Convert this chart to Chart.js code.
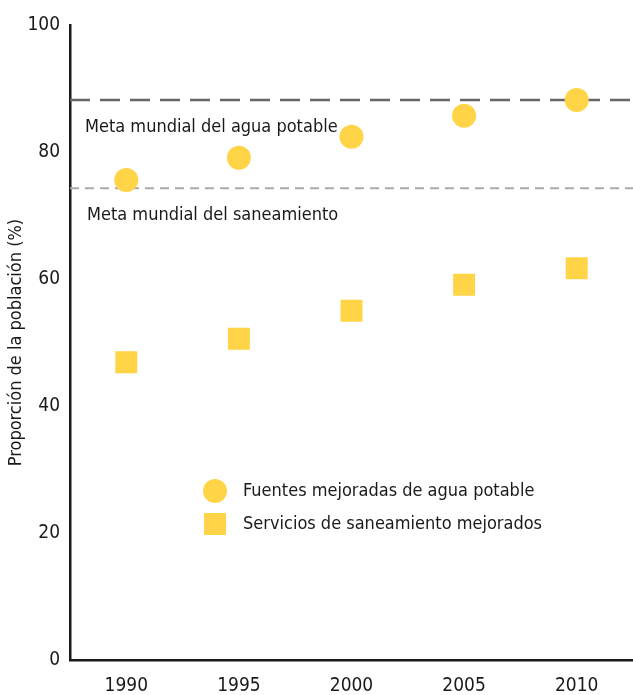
<!DOCTYPE html>
<html>
<head>
<meta charset="utf-8">
<script src="https://cdn.jsdelivr.net/npm/chart.js@4/dist/chart.umd.min.js"></script>
<style>
  html, body { margin: 0; padding: 0; background: #fff; overflow: hidden; }
  #wrap { width: 633px; height: 695px; }
  canvas { display: block; }
</style>
</head>
<body>
<div id="wrap"><canvas id="myChart" width="633" height="695"></canvas></div>
<script>
var years = ['1990', '1995', '2000', '2005', '2010'];
var agua = [75.6, 79.1, 82.4, 85.7, 88.2];        // fuentes mejoradas de agua potable
var saneamiento = [46.9, 50.6, 55.0, 59.1, 61.7]; // servicios de saneamiento mejorados
var yTicks = [0, 20, 40, 60, 80, 100];
var metaAgua = 88.2;
var metaSaneamiento = 74.3;

var FONT = "'Liberation Sans Narrow', 'DejaVu Sans Condensed', 'Liberation Sans', sans-serif";
var yellow = 'rgb(255, 212, 71)';

// goal lines, their labels and the legend inside the plot
var extras = {
  id: 'extras',
  beforeDatasetsDraw: function (chart) {
    var c = chart.ctx, a = chart.chartArea, y = chart.scales.y;
    c.save();
    c.lineWidth = 2.5;
    c.strokeStyle = '#666';
    c.setLineDash([20, 10]);
    var p = y.getPixelForValue(metaAgua);
    c.beginPath(); c.moveTo(a.left, p); c.lineTo(a.right, p); c.stroke();
    c.lineWidth = 2;
    c.strokeStyle = '#aaa';
    c.setLineDash([9, 6]);
    p = y.getPixelForValue(metaSaneamiento);
    c.beginPath(); c.moveTo(a.left, p); c.lineTo(a.right, p); c.stroke();
    c.setLineDash([]);
    c.fillStyle = '#1a1a1a';
    c.font = '18px ' + FONT;
    c.textBaseline = 'middle';
    c.fillText('Meta mundial del agua potable', 85, y.getPixelForValue(metaAgua) + 27);
    c.fillText('Meta mundial del saneamiento', 87, y.getPixelForValue(metaSaneamiento) + 27);
    c.restore();
  },
  afterDraw: function (chart) {
    var c = chart.ctx;
    c.save();
    c.fillStyle = yellow;
    c.beginPath(); c.arc(215, 491, 12, 0, Math.PI * 2); c.fill();
    c.fillRect(204, 513, 22, 22);
    c.fillStyle = '#1a1a1a';
    c.font = '18px ' + FONT;
    c.textBaseline = 'middle';
    c.fillText(chart.data.datasets[0].label, 243, 491);
    c.fillText(chart.data.datasets[1].label, 243, 524);
    c.restore();
  }
};

var ctx = document.getElementById('myChart').getContext('2d');
var myChart = new Chart(ctx, {
  type: 'line',
  data: {
    labels: years,
    datasets: [
      {
        label: 'Fuentes mejoradas de agua potable',
        data: agua,
        showLine: false,
        pointStyle: 'circle',
        pointRadius: 12,
        pointBackgroundColor: yellow,
        pointBorderWidth: 0,
        borderColor: yellow
      },
      {
        label: 'Servicios de saneamiento mejorados',
        data: saneamiento,
        showLine: false,
        pointStyle: 'rect',
        pointRadius: 15.5,
        pointBackgroundColor: yellow,
        pointBorderWidth: 0,
        borderColor: yellow
      }
    ]
  },
  options: {
    responsive: false,
    animation: false,
    layout: { autoPadding: false, padding: { top: 25, right: 0, left: 0, bottom: 0 } },
    plugins: {
      legend: { display: false },
      tooltip: { enabled: false }
    },
    scales: {
      x: {
        offset: true,
        grid: { display: false, drawTicks: false },
        border: { color: '#1a1a1a', width: 2.5 },
        ticks: { color: '#1a1a1a', font: { family: FONT, size: 19 }, padding: 15 },
        afterFit: function (s) { s.height = 35; }
      },
      y: {
        min: 0,
        max: 100,
        afterBuildTicks: function (s) { s.ticks = yTicks.map(function (v) { return { value: v }; }); },
        grid: { display: false, drawTicks: false },
        border: { color: '#1a1a1a', width: 2.5 },
        ticks: { color: '#1a1a1a', font: { family: FONT, size: 19 }, padding: 10 },
        title: {
          display: true,
          text: 'Proporción de la población (%)',
          color: '#1a1a1a',
          font: { family: FONT, size: 18 },
          padding: { top: 6, bottom: 8 }
        },
        afterFit: function (s) { s.width = 70; }
      }
    }
  },
  plugins: [extras]
});
</script>
</body>
</html>
